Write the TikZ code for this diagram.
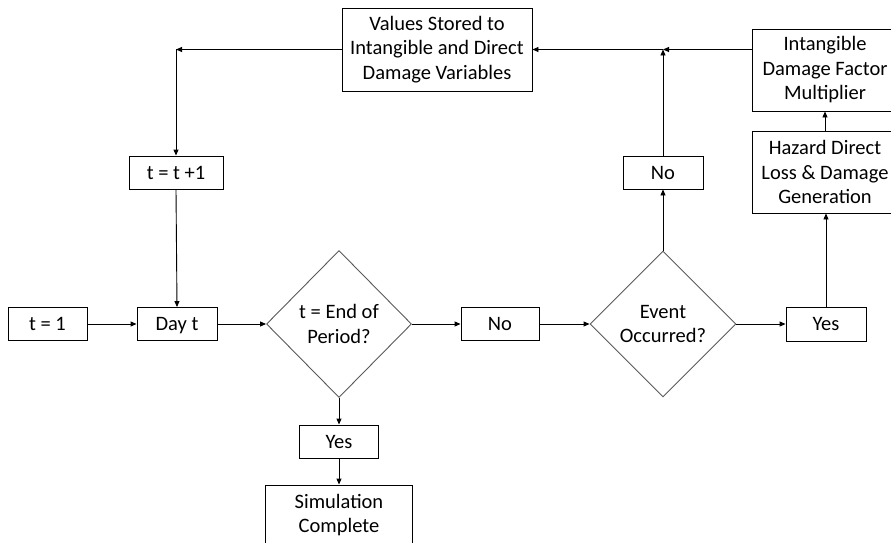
\documentclass[tikz,border=0pt]{standalone}
\usepackage{fontspec}
\setmainfont{Carlito}
\usetikzlibrary{shapes.geometric,arrows.meta}
\begin{document}
\begin{tikzpicture}[x=1pt,y=-1pt,
  every node/.style={font=\fontsize{20.5}{24.5}\selectfont, align=center, inner sep=0pt},
  box/.style={draw=black, line width=0.9pt, rectangle},
  one/.style={text height=13pt, text depth=0pt},
  dia/.style={draw=black!65, line width=0.9pt, diamond},
  conn/.style={line width=0.9pt, -{Triangle[length=6pt,width=5pt]}}]
\useasboundingbox (0,0) rectangle (891,543);
\clip (0,0) rectangle (891,543);
% nodes
\node[box, one, minimum width=79pt, minimum height=33pt] (t1) at (47.5,324) {t = 1};
\node[box, one, minimum width=80pt, minimum height=33pt] (day) at (177,324) {Day t};
\node[dia, minimum width=145pt, minimum height=147pt] (d1) at (339,324) {t = End of\\Period?};
\node[box, one, minimum width=78pt, minimum height=33pt] (no1) at (500,324) {No};
\node[dia, minimum width=146pt, minimum height=146pt] (d2) at (663,324) {Event\\Occurred?};
\node[box, one, minimum width=80pt, minimum height=34pt] (yes2) at (826,324) {Yes};
\node[box, minimum width=146pt, minimum height=82pt] (haz) at (825,172) {Hazard Direct\\Loss \& Damage\\Generation};
\node[box, minimum width=146pt, minimum height=82pt] (intg) at (825,70) {Intangible\\Damage Factor\\Multiplier};
\node[box, one, minimum width=80pt, minimum height=33pt] (no2) at (663,172.5) {No};
\node[box, minimum width=190pt, minimum height=83pt] (val) at (437,49.5) {Values Stored to\\Intangible and Direct\\Damage Variables};
\node[box, one, minimum width=94pt, minimum height=33pt] (tt1) at (176,172.5) {t = t +1};
\node[box, one, minimum width=79pt, minimum height=33pt] (yes1) at (339,441.5) {Yes};
\node[box, minimum width=147pt, minimum height=60pt] (sim) at (339,515) {Simulation\\Complete};
\coordinate (junc) at (663,49.5);
\coordinate (corner) at (176,49.5);
% connectors
\draw[conn] (t1) -- (day);
\draw[conn] (day) -- (d1.west);
\draw[conn] (d1.east) -- (no1);
\draw[conn] (no1) -- (d2.west);
\draw[conn] (d2.east) -- (yes2);
\draw[conn] (yes2.north) -- (yes2.north |- haz.south);
\draw[conn] (haz) -- (intg);
\draw[conn] (d2.north) -- (no2.south);
\draw[conn] (no2.north) -- (junc);
\draw[conn] (intg.west |- junc) -- (junc);
\draw[conn] (junc) -- (val.east);
\draw[conn] (val.west) -- (corner);
\draw[conn] (corner) -- (tt1.north);
\draw[conn] (tt1.south) -- (day.north);
\draw[conn] (d1.south) -- (yes1.north);
\draw[conn] (yes1.south) -- (sim.north);
\end{tikzpicture}
\end{document}
